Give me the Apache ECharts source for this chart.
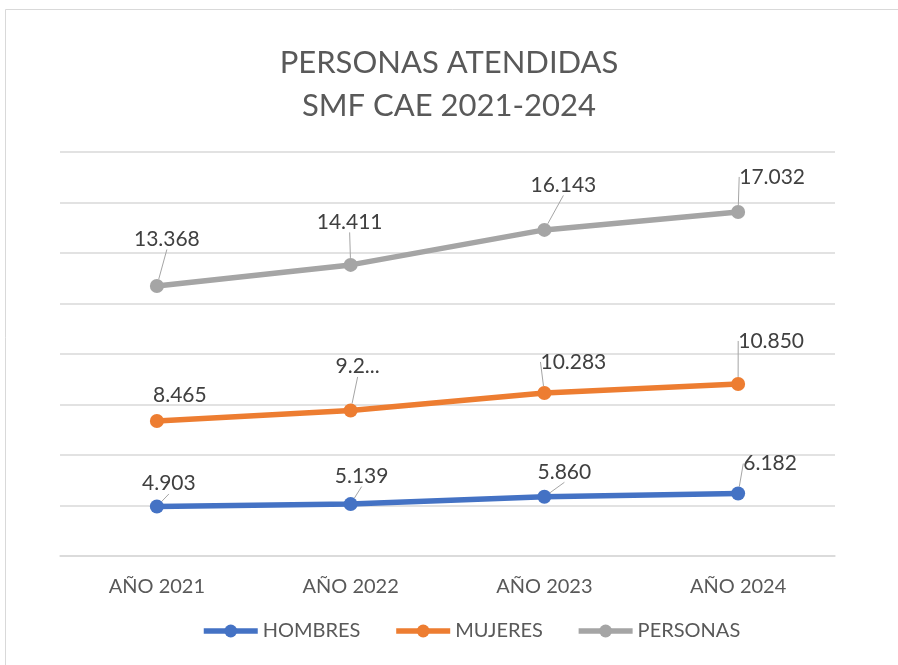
<!DOCTYPE html>
<html>
<head>
<meta charset="utf-8">
<script src="https://cdn.jsdelivr.net/npm/echarts@6/dist/echarts.min.js"></script>
<style>
  html, body { margin: 0; padding: 0; background: #fff; }
  #main { width: 898px; height: 665px; }
</style>
</head>
<body>
<div id="main"></div>
<script>
// datos (lineas apiladas, como en Excel)
var years = ["AÑO 2021", "AÑO 2022", "AÑO 2023", "AÑO 2024"];
var hombres = [4903, 5139, 5860, 6182];
var mujeres = [8465, 9272, 10283, 10850];
var personas = [13368, 14411, 16143, 17032];
var seriesNames = ["HOMBRES", "MUJERES", "PERSONAS"];

// desplazamiento de cada etiqueta respecto a su punto (px)
var labelOffsets = [
  [[12, -23], [11, -28], [20, -25], [32, -30]],
  [[23, -26], [7, -44], [29, -31], [33, -43]],
  [[10, -47], [-1, -43], [19, -45], [34, -35]]
];
// etiquetas que Excel dejo sin linea guia o cortadas
var noGuide = { "1-0": true };
var cutLabels = { "1-1": "9.2..." };

var colors = ["#4472C4", "#ED7D31", "#A5A5A5"];
var fontFamily = "Lato, 'Noto Sans', sans-serif";

var fmt = function(v) {
  return String(v).replace(/\B(?=(\d{3})+(?!\d))/g, ".");
};

var makeSeries = function(idx, values) {
  return {
    name: seriesNames[idx],
    type: "line",
    stack: "total",
    data: values.map(function(v, i) {
      var item = { value: v };
      if (noGuide[idx + "-" + i]) item.labelLine = { show: false };
      return item;
    }),
    symbol: "circle",
    symbolSize: 14,
    lineStyle: { width: 5.5, color: colors[idx] },
    itemStyle: { color: colors[idx] },
    label: {
      show: true,
      position: "top",
      fontFamily: fontFamily,
      fontSize: 21,
      color: "#404040",
      formatter: function(p) {
        var key = idx + "-" + p.dataIndex;
        return cutLabels[key] || fmt(p.value);
      }
    },
    labelLine: {
      show: true,
      lineStyle: { color: "#A5A5A5", width: 1 }
    },
    labelLayout: function(params) {
      var off = labelOffsets[idx][params.dataIndex];
      var cx = params.rect.x + params.rect.width / 2;
      var cy = params.rect.y + params.rect.height / 2;
      return {
        x: cx + off[0],
        y: cy + off[1],
        align: "center",
        verticalAlign: "middle"
      };
    },
    emphasis: { disabled: true },
    animation: false
  };
};

var myChart = echarts.init(document.getElementById("main"));
var option = {
  backgroundColor: "#fff",
  color: colors,
  title: {
    text: "PERSONAS ATENDIDAS\nSMF CAE 2021-2024",
    left: "center",
    top: 36,
    textStyle: {
      fontFamily: fontFamily,
      fontSize: 31,
      fontWeight: "normal",
      color: "#595959",
      lineHeight: 43
    }
  },
  graphic: [
    {
      type: "rect",
      shape: { x: 5.5, y: 9.5, width: 1000, height: 1000 },
      style: { fill: "none", stroke: "#D9D9D9", lineWidth: 1 },
      silent: true
    }
  ],
  legend: {
    bottom: 19,
    left: 196,
    itemWidth: 54,
    itemHeight: 16,
    itemGap: 33,
    lineStyle: { width: 5.5 },
    textStyle: { fontFamily: fontFamily, fontSize: 20, color: "#595959" },
    data: seriesNames
  },
  grid: {
    left: 60,
    right: 63,
    top: 152,
    bottom: 109
  },
  xAxis: {
    type: "category",
    data: years,
    boundaryGap: true,
    axisLine: { lineStyle: { color: "#D9D9D9", width: 1.5 } },
    axisTick: { show: false },
    axisLabel: {
      fontFamily: fontFamily,
      fontSize: 20,
      color: "#595959",
      margin: 21
    }
  },
  yAxis: {
    type: "value",
    min: 0,
    max: 40000,
    interval: 5000,
    axisLine: { show: false },
    axisTick: { show: false },
    axisLabel: { show: false },
    splitLine: { lineStyle: { color: "#D9D9D9", width: 1.5 } }
  },
  series: [
    makeSeries(0, hombres),
    makeSeries(1, mujeres),
    makeSeries(2, personas)
  ]
};
myChart.setOption(option);
</script>
</body>
</html>
